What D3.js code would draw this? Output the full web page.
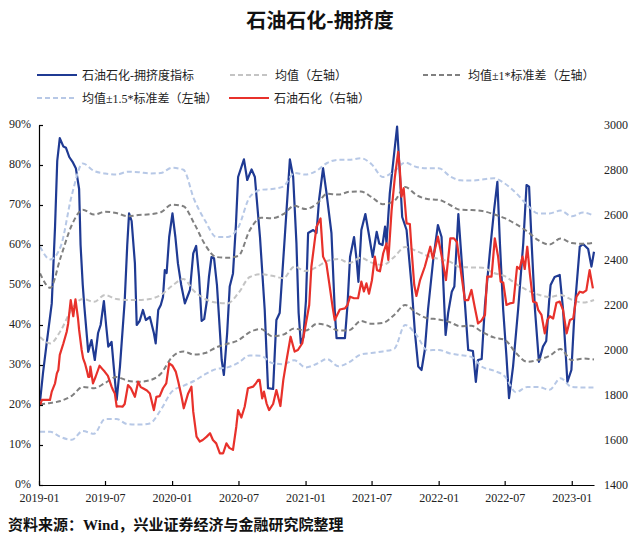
<!DOCTYPE html>
<html><head><meta charset="utf-8">
<script src="https://cdn.jsdelivr.net/npm/d3@7"></script>
<style>body{margin:0;background:#fff;}svg{display:block;}</style>
</head><body><svg id="c" width="640" height="543"></svg>
<script>
// ---------- DATA ----------
const idxDates = ["2019-01-04","2019-01-12","2019-01-22","2019-02-05","2019-02-14","2019-02-20","2019-02-27","2019-03-09","2019-03-16","2019-03-25","2019-04-03","2019-04-12","2019-04-21","2019-04-25","2019-05-01","2019-05-05","2019-05-16","2019-05-25","2019-06-03","2019-06-12","2019-06-19","2019-06-28","2019-07-04","2019-07-10","2019-07-19","2019-08-02","2019-08-11","2019-08-24","2019-08-31","2019-09-05","2019-09-12","2019-09-21","2019-09-26","2019-10-04","2019-10-13","2019-10-21","2019-11-01","2019-11-12","2019-11-17","2019-11-24","2019-12-01","2019-12-07","2019-12-12","2019-12-17","2019-12-24","2020-01-02","2020-01-10","2020-01-17","2020-01-26","2020-02-05","2020-02-19","2020-02-28","2020-03-07","2020-03-15","2020-03-22","2020-03-29","2020-04-05","2020-04-11","2020-04-18","2020-04-25","2020-05-03","2020-05-10","2020-05-16","2020-05-22","2020-05-31","2020-06-07","2020-06-16","2020-06-24","2020-06-30","2020-07-16","2020-07-25","2020-08-06","2020-08-15","2020-08-29","2020-09-11","2020-09-20","2020-10-04","2020-10-09","2020-10-13","2020-10-22","2020-10-25","2020-11-05","2020-11-19","2020-11-28","2020-12-07","2020-12-13","2020-12-19","2020-12-26","2021-01-02","2021-01-08","2021-01-22","2021-01-31","2021-02-07","2021-02-18","2021-02-27","2021-03-13","2021-03-22","2021-03-27","2021-04-19","2021-04-26","2021-05-03","2021-05-14","2021-05-21","2021-05-26","2021-06-03","2021-06-14","2021-06-23","2021-07-04","2021-07-15","2021-07-22","2021-07-31","2021-08-07","2021-08-11","2021-08-20","2021-08-30","2021-09-09","2021-09-16","2021-09-23","2021-10-05","2021-10-19","2021-10-28","2021-11-06","2021-11-15","2021-11-24","2021-12-03","2021-12-17","2021-12-30","2022-01-09","2022-01-14","2022-01-20","2022-01-27","2022-02-06","2022-02-13","2022-02-24","2022-03-05","2022-03-14","2022-03-23","2022-04-05","2022-04-13","2022-04-19","2022-04-29","2022-05-08","2022-05-22","2022-06-02","2022-06-11","2022-06-18","2022-06-27","2022-07-06","2022-07-13","2022-07-24","2022-08-07","2022-08-21","2022-08-30","2022-09-06","2022-09-13","2022-09-22","2022-10-03","2022-10-14","2022-10-23","2022-10-31","2022-11-04","2022-11-15","2022-11-29","2022-12-08","2022-12-20","2022-12-31","2023-01-09","2023-01-23","2023-02-01","2023-02-15","2023-02-24","2023-03-03"];
const idxVals = [21,28,35.4,45.4,64.6,81,86.7,84.6,84.3,82,80.8,79.2,74,60,50,45,33.3,36.25,31.25,38,40,46,40,34.6,35.8,21.25,29.6,46,60,67.9,66,55.4,40,41,43.75,41.25,42,38,35.4,43.75,45,47,53.75,53,62,67.9,62,55.4,50,45.4,48.75,57.9,59.75,52,41,41.5,45.8,52,57,56.7,50,40,31.25,27.5,38,49.6,52.9,65,77,81.4,76.25,78.9,77,62,43.75,24.2,24,33.75,41.25,43,47,62,81.4,77,60.4,43,35.4,37,46,63,63.75,63,71.25,79.2,73.3,63,43.75,36.7,36.7,45,57,62,56.25,50.8,63.75,67.75,63,57,63.3,60.4,60,64.6,60.4,72.9,81.25,89.6,78.75,67,63.75,49.6,38,29.6,28.75,33.75,44,56.25,65,62,50,37.5,43,48.3,49.6,67.75,56.25,45.4,33.75,33.5,25.8,31.25,31.5,45,58.75,68.75,75.8,60.4,43.75,32,21.7,29.6,44,60.4,75,74.6,60.4,44,30.8,34.6,36,46,50,52,52.5,44,25.8,28.75,44,59.6,60.25,59,54.6,58.3];

const priceDates = ["2019-01-04","2019-01-09","2019-01-17","2019-01-31","2019-02-05","2019-02-14","2019-02-19","2019-02-23","2019-02-27","2019-03-09","2019-03-18","2019-03-22","2019-03-29","2019-04-05","2019-04-11","2019-04-18","2019-04-21","2019-04-28","2019-05-02","2019-05-07","2019-05-13","2019-05-16","2019-05-20","2019-05-22","2019-05-29","2019-06-05","2019-06-16","2019-06-24","2019-06-30","2019-07-09","2019-07-19","2019-07-23","2019-07-28","2019-08-02","2019-08-06","2019-08-18","2019-08-24","2019-09-02","2019-09-10","2019-09-21","2019-09-30","2019-10-07","2019-10-13","2019-10-24","2019-11-01","2019-11-12","2019-11-19","2019-11-28","2019-12-07","2019-12-16","2019-12-24","2020-01-02","2020-01-11","2020-01-18","2020-01-27","2020-02-02","2020-02-14","2020-02-23","2020-02-28","2020-03-08","2020-03-17","2020-03-25","2020-04-05","2020-04-14","2020-04-22","2020-05-01","2020-05-11","2020-05-20","2020-05-29","2020-06-06","2020-06-16","2020-06-25","2020-06-30","2020-07-09","2020-07-18","2020-07-27","2020-08-10","2020-08-17","2020-08-24","2020-08-28","2020-09-04","2020-09-09","2020-09-16","2020-09-23","2020-10-04","2020-10-13","2020-10-24","2020-11-01","2020-11-10","2020-11-21","2020-12-02","2020-12-11","2020-12-23","2021-01-02","2021-01-11","2021-01-17","2021-01-31","2021-02-11","2021-02-18","2021-02-27","2021-03-07","2021-03-16","2021-03-22","2021-04-05","2021-04-19","2021-04-26","2021-05-03","2021-05-14","2021-05-25","2021-06-03","2021-06-10","2021-06-17","2021-06-24","2021-07-02","2021-07-10","2021-07-16","2021-07-24","2021-08-02","2021-08-11","2021-08-16","2021-08-25","2021-09-03","2021-09-12","2021-09-16","2021-09-21","2021-09-27","2021-10-05","2021-10-14","2021-10-19","2021-10-26","2021-11-01","2021-11-11","2021-11-24","2021-12-09","2021-12-16","2021-12-30","2022-01-09","2022-01-21","2022-02-02","2022-02-12","2022-02-20","2022-03-05","2022-03-14","2022-03-23","2022-04-01","2022-04-10","2022-04-19","2022-04-28","2022-05-08","2022-05-14","2022-05-26","2022-06-04","2022-06-13","2022-06-20","2022-06-27","2022-07-06","2022-07-15","2022-07-25","2022-08-04","2022-08-11","2022-08-19","2022-08-25","2022-09-01","2022-09-08","2022-09-17","2022-09-26","2022-10-01","2022-10-10","2022-10-19","2022-10-26","2022-11-02","2022-11-11","2022-11-20","2022-11-29","2022-12-08","2022-12-18","2022-12-27","2023-01-05","2023-01-14","2023-01-23","2023-02-01","2023-02-10","2023-02-19","2023-02-28"];
const priceVals = [1755,1778,1778,1778,1815,1852,1896,1911,1978,2030,2081,2118,2222,2150,2225,2140,2089,2000,1963,1941,1904,1881,1881,1926,1852,1880,1930,1915,1904,1885,1837,1822,1807,1748,1750,1748,1760,1844,1830,1792,1859,1835,1830,1820,1807,1733,1792,1795,1830,1852,1941,1930,1904,1859,1792,1741,1807,1837,1726,1615,1593,1600,1615,1630,1600,1585,1541,1541,1585,1565,1556,1659,1733,1700,1748,1830,1837,1850,1867,1867,1785,1815,1763,1733,1760,1822,1751,1867,1956,2059,1993,2000,2030,2118,2200,2370,2548,2585,2415,2385,2296,2193,2133,2180,2185,2200,2237,2230,2230,2304,2260,2296,2250,2310,2415,2355,2350,2430,2474,2400,2622,2770,2881,2815,2681,2719,2563,2560,2440,2290,2240,2311,2370,2459,2407,2504,2420,2311,2496,2496,2480,2326,2222,2222,2267,2190,2118,2130,2156,2326,2326,2496,2415,2304,2300,2200,2207,2210,2370,2360,2415,2360,2459,2341,2215,2210,2178,2156,2074,2133,2150,2140,2210,2215,2178,2074,2133,2140,2237,2259,2255,2265,2355,2274];

const bandDates = ["2019-01-04","2019-02-01","2019-03-01","2019-04-01","2019-05-01","2019-06-01","2019-07-01","2019-08-01","2019-09-01","2019-10-01","2019-11-01","2019-12-01","2020-01-01","2020-02-01","2020-03-01","2020-04-01","2020-05-01","2020-06-01","2020-07-01","2020-08-01","2020-09-01","2020-10-01","2020-11-01","2020-12-01","2021-01-01","2021-02-01","2021-03-01","2021-04-01","2021-05-01","2021-06-01","2021-07-01","2021-08-01","2021-09-01","2021-10-01","2021-11-01","2021-12-01","2022-01-01","2022-02-01","2022-03-01","2022-04-01","2022-05-01","2022-06-01","2022-07-01","2022-08-01","2022-09-01","2022-10-01","2022-11-01","2022-12-01","2023-01-01","2023-02-01","2023-03-03"];
const meanVals  = [37,35.4,38.5,44,46.5,45.8,47.5,46.5,46.25,46.25,46.5,47.5,49.8,51.5,48.5,46.5,45.6,45.4,48,52,52.7,52.3,51.7,54.6,53.5,54.5,56,56.5,55.5,56.8,55.6,55,57,59.5,58.5,57.3,56.5,55.8,54.5,54.4,54.3,53,52.2,50.3,48.7,47.6,47,47.5,46.3,45.6,46.25];
const up1Vals   = [52.9,49.3,56.8,65,68.8,67.6,68.3,68,67.2,67.5,67.7,68.2,70.1,69.7,65.5,60,57,56.8,57.3,63.7,66.8,66.7,67.7,69.8,69,70.3,72.8,72.6,73.3,73.4,72,70.2,71,74.5,72.5,71.5,71.3,70,68.8,68.75,68.5,67.7,66.7,65.2,63.4,61.2,60.1,61.6,60.5,60.3,60.6];
const low1Vals  = [20.2,20.5,21,22.3,24.5,24.2,25.5,27,26.1,25.8,26.2,27.8,32,33.4,32.6,33,34.4,35.3,36.2,38.2,39,37.2,37.6,39.1,38.6,40.3,39.9,38.6,38.7,41,40.3,40.5,42.5,45,43,41.7,41.4,40.7,39.7,39.8,38.2,36.9,36.3,33,30.8,31.3,32.3,34,31.2,31.6,31.4];
const up15Vals  = [59.6,56.4,59.5,72.5,80.4,78.5,77.9,77.6,78.3,78.2,77.9,78,79.3,78.8,71.5,66,62,62,64.5,72,73.8,74,74.6,78,77.6,78.6,80.5,81.3,81.3,81.7,80.2,77,78.5,80.6,79.5,79.2,79.2,77.2,76.2,76.1,76.4,76.7,75.4,73,70,67.9,67.9,68.6,67.2,68.1,67.3];
const low15Vals = [13.3,13.3,12,11.3,13.5,12.8,16.5,16.5,15.2,15.1,15.4,18.8,23.4,24.8,26,27.7,29,29.4,30.6,32.4,32.3,30.5,30.2,31.2,29.4,30.3,31.5,29.7,30.7,32.6,33,33.4,34,40,37.5,33.7,33.75,32.9,32.5,32,29.5,28.6,27.2,23.2,24.5,24.5,23.8,26.7,24.5,24.4,24.4];

const leftTicks = [0,10,20,30,40,50,60,70,80,90];
const rightTicks = [1400,1600,1800,2000,2200,2400,2600,2800,3000];
const xTickLabels = ["2019-01","2019-07","2020-01","2020-07","2021-01","2021-07","2022-01","2022-07","2023-01"];

const title = "石油石化-拥挤度";
const source = "资料来源：Wind，兴业证券经济与金融研究院整理";
const legendNames = ["石油石化-拥挤度指标","均值（左轴）","均值±1*标准差（左轴）","均值±1.5*标准差（左轴）","石油石化（右轴）"];

// ---------- CHART ----------
const parse = d3.timeParse("%Y-%m-%d");
const svg = d3.select("#c");
const serifCJK = "'Liberation Serif','Noto Sans CJK SC',serif";

const x = d3.scaleTime().domain([parse("2019-01-01"), parse("2023-03-03")]).range([39, 594]);
const yL = d3.scaleLinear().domain([0, 90]).range([485, 125]);
const yR = d3.scaleLinear().domain([1400, 3000]).range([485, 125]);

const C_BLUE = "#1f3a93", C_RED = "#e8312b", C_MEAN = "#c4c4c4", C_SD1 = "#808080", C_SD15 = "#b7c8e6";

// title
svg.append("text").attr("x", 320).attr("y", 28).attr("text-anchor", "middle")
  .attr("font-family", "'Noto Sans CJK SC',sans-serif").attr("font-weight", "bold")
  .attr("font-size", 20).attr("fill", "#111").text(title);

// legend
const legendItems = [
  {name: legendNames[0], color: C_BLUE, dash: null, x: 37, y: 75},
  {name: legendNames[1], color: C_MEAN, dash: "5,3", x: 230, y: 75},
  {name: legendNames[2], color: C_SD1, dash: "5,3", x: 423, y: 75},
  {name: legendNames[3], color: C_SD15, dash: "5,3", x: 37, y: 98},
  {name: legendNames[4], color: C_RED, dash: null, x: 229, y: 98}
];
const lg = svg.append("g").selectAll("g").data(legendItems).join("g")
  .attr("transform", d => `translate(${d.x},${d.y})`);
lg.append("line").attr("x1", 0).attr("x2", 40).attr("y1", 0).attr("y2", 0)
  .attr("stroke", d => d.color).attr("stroke-width", 2.2)
  .attr("stroke-dasharray", d => d.dash);
lg.append("text").attr("x", 45).attr("y", 4.5).attr("font-family", serifCJK)
  .attr("font-size", 12).attr("fill", "#222").text(d => d.name);

// series
const mk = (dates, vals) => dates.map((d, i) => ({date: parse(d), v: vals[i]}));
const lineL = d3.line().x(d => x(d.date)).y(d => yL(d.v));
const lineLs = d3.line().x(d => x(d.date)).y(d => yL(d.v)).curve(d3.curveMonotoneX);
const lineR = d3.line().x(d => x(d.date)).y(d => yR(d.v));

const g = svg.append("g");
g.append("path").datum(mk(idxDates, idxVals)).attr("d", lineL)
  .attr("fill", "none").attr("stroke", C_BLUE).attr("stroke-width", 2.2).attr("stroke-linejoin", "round");

const bands = [
  {vals: meanVals, color: C_MEAN},
  {vals: up1Vals, color: C_SD1},
  {vals: low1Vals, color: C_SD1},
  {vals: up15Vals, color: C_SD15},
  {vals: low15Vals, color: C_SD15}
];
bands.forEach(b => {
  g.append("path").datum(mk(bandDates, b.vals)).attr("d", lineLs)
    .attr("fill", "none").attr("stroke", b.color).attr("stroke-width", 2)
    .attr("stroke-dasharray", "5,3");
});

g.append("path").datum(mk(priceDates, priceVals)).attr("d", lineR)
  .attr("fill", "none").attr("stroke", C_RED).attr("stroke-width", 2.2).attr("stroke-linejoin", "round");

// axes
const axL = svg.append("g").attr("transform", "translate(39,0)")
  .call(d3.axisLeft(yL).tickValues(leftTicks).tickFormat(d => d + "%").tickSizeInner(-4).tickSizeOuter(0).tickPadding(8));
axL.selectAll(".tick text").attr("dy", "0.2em");
const axR = svg.append("g").attr("transform", "translate(594,0)")
  .call(d3.axisRight(yR).tickValues(rightTicks).tickFormat(d3.format("d")).tickSize(0).tickPadding(10));
axR.select(".domain").remove();
const axB = svg.append("g").attr("transform", "translate(0,485)")
  .call(d3.axisBottom(x).tickValues(xTickLabels.map(s => parse(s + "-01"))).tickFormat(d3.timeFormat("%Y-%m"))
    .tickSizeInner(-4).tickSizeOuter(0).tickPadding(8));
[axL, axR, axB].forEach(a => {
  a.selectAll("text").attr("font-family", "'Liberation Serif',serif").attr("font-size", 12).attr("fill", "#222");
  a.selectAll("line,path").attr("stroke", "#000").attr("stroke-width", 1.2);
});

// source
svg.append("text").attr("x", 8).attr("y", 530).attr("font-family", serifCJK)
  .attr("font-weight", "bold").attr("font-size", 15).attr("fill", "#111").text(source);
</script>
</body></html>
